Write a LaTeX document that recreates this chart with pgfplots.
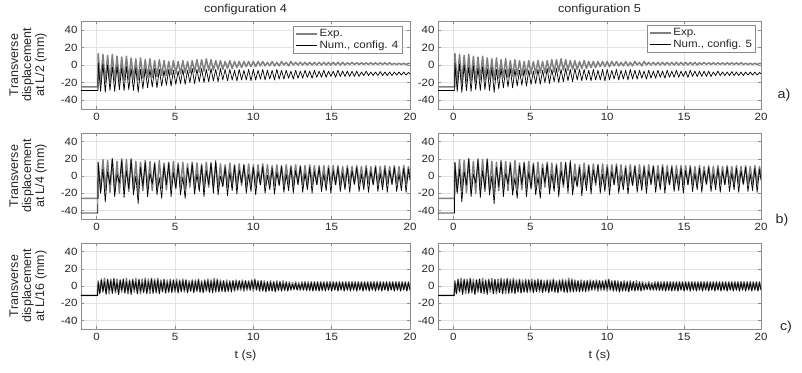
\documentclass[border=0pt]{standalone}
\usepackage{fontspec}
\setmainfont[FakeStretch=1.1]{Liberation Sans}
\newfontfamily\labfont{Liberation Sans}
\usepackage{pgfplots}
\pgfplotsset{compat=1.18}
\usepackage{pgfplotstable}

% Row a: L/2
\pgfplotstableread{
t e n
-1 -25 -29
0.08 -25 -29
0.10 13 2
0.25 -21 -30
0.40 12 1
0.55 -20 -31
0.70 11 0
0.85 -19 -29
1.00 12 -2
1.15 -18 -30
1.30 10 -1
1.45 -19 -28
1.60 9 -3
1.75 -17 -29
1.90 10 -2
2.05 -17 -28
2.20 8 -4
2.35 -16 -29
2.50 7 -3
2.65 -17 -31
2.80 8 -5
2.95 -15 -27
3.10 6 -4
3.25 -14 -26
3.40 7 -5
3.55 -14 -25
3.70 5 -4
3.85 -13 -26
4.00 6 -5
4.15 -12 -24
4.30 5 -6
4.45 -12 -23
4.60 4 -5
4.75 -11 -24
4.90 5 -6
5.05 -10 -22
5.20 4 -7
5.35 -10 -21
5.50 5 -5
5.65 -9 -22
5.80 4 -6
5.95 -9 -20
6.10 5 -4
6.25 -8 -21
6.40 6 -5
6.55 -8 -19
6.70 6 -4
6.85 -7 -20
7.00 7 -5
7.15 -6 -19
7.30 6 -4
7.45 -6 -18
7.60 5 -5
7.75 -5 -19
7.90 5 -4
8.05 -5 -17
8.20 4 -5
8.35 -4 -18
8.50 5 -5
8.65 -4 -17
8.80 4 -6
8.95 -3 -18
9.10 4 -5
9.25 -3 -17
9.40 4 -6
9.55 -2 -17
9.70 4 -5
9.85 -2 -18
10.00 4 -5
10.15 -2 -17
10.30 4 -6
10.45 -1 -16
10.60 4 -5
10.75 -1 -17
10.90 3 -6
11.05 -1 -16
11.20 4 -6
11.35 -1 -17
11.50 3 -5
11.65 -1 -16
11.80 4 -6
11.95 0 -16
12.10 3 -6
12.25 -1 -15
12.40 4 -7
12.55 0 -16
12.70 3 -6
12.85 0 -15
13.00 3 -7
13.15 0 -15
13.30 3 -6
13.45 0 -14
13.60 3 -7
13.75 0 -15
13.90 3 -6
14.05 0 -14
14.20 3 -7
14.35 0 -14
14.50 3 -6
14.65 0 -14
14.80 3 -7
14.95 0 -13
15.10 3 -7
15.25 0 -14
15.40 3 -6
15.55 0 -13
15.70 3 -7
15.85 0 -13
16.00 2.5 -7
16.15 0.5 -13
16.30 3 -7
16.45 0.5 -13
16.60 2.5 -7
16.75 0.5 -13
16.90 2.5 -8
17.05 0.5 -12
17.20 2.5 -7
17.35 0.5 -12
17.50 2.5 -8
17.65 0.5 -12
17.80 2.5 -8
17.95 0.5 -12
18.10 2.5 -7.5
18.25 0.5 -12
18.40 2.5 -8
18.55 0.5 -12
18.70 2.5 -8
18.85 0.5 -12
19.00 2 -8
19.15 0.5 -11.5
19.30 2 -8
19.45 0.5 -11.5
19.60 2 -8
19.75 0.5 -11.5
19.90 2 -8.5
20.00 1.5 -10
}\tabA

% Row b: L/4
\pgfplotstableread{
t e n
-1 -26 -43
0.07 -26 -43
0.10 16 15
0.25 -18 -20
0.40 19 8
0.55 -17 -30
0.70 18 5
0.85 -19 -10
1.00 20 20
1.15 -18 -24
1.30 17 2
1.45 -20 -8
1.60 20 18
1.75 -17 -25
1.90 19 6
2.05 -18 -15
2.20 20 19
2.35 -16 -22
2.50 17 0
2.65 -19 -32
2.80 16 10
2.95 -17 -12
3.10 18 16
3.25 -15 -24
3.40 17 3
3.55 -17 -9
3.70 16 14
3.85 -16 -22
4.00 18 -2
4.15 -14 -26
4.30 15 12
4.45 -16 -10
4.60 16 15
4.75 -14 -24
4.90 17 4
5.05 -15 -14
5.20 15 13
5.35 -13 -22
5.50 16 -1
5.65 -15 -26
5.80 14 9
5.95 -13 -8
6.10 16 14
6.25 -14 -21
6.40 15 2
6.55 -12 -18
6.70 14 12
6.85 -14 -24
7.00 16 6
7.15 -13 -10
7.30 14 16
7.45 -12 -20
7.60 15 18
7.75 -13 -22
7.90 14 0
8.05 -12 -12
8.20 13 10
8.35 -13 -23
8.50 15 4
8.65 -11 -17
8.80 13 12
8.95 -12 -21
9.10 14 7
9.25 -11 -8
9.40 13 13
9.55 -12 -20
9.70 14 2
9.85 -11 -18
10.00 13 10
10.15 -12 -22
10.30 13 5
10.45 -10 -10
10.60 14 11
10.75 -11 -20
10.90 13 1
11.05 -10 -16
11.20 12 9
11.35 -11 -21
11.50 13 4
11.65 -10 -11
11.80 12 11
11.95 -11 -19
12.10 13 2
12.25 -10 -17
12.40 12 10
12.55 -11 -20
12.70 13 6
12.85 -10 -9
13.00 12 11
13.15 -10 -19
13.30 12 3
13.45 -11 -16
13.60 13 10
13.75 -10 -20
13.90 12 5
14.05 -10 -10
14.20 12 10
14.35 -11 -18
14.50 12 2
14.65 -10 -17
14.80 12 9
14.95 -10 -20
15.10 12 6
15.25 -10 -10
15.40 12 10
15.55 -10 -18
15.70 11 3
15.85 -10 -16
16.00 12 9
16.15 -9 -19
16.30 11 6
16.45 -10 -9
16.60 12 10
16.75 -9 -18
16.90 11 2
17.05 -10 -16
17.20 12 9
17.35 -9 -19
17.50 11 5
17.65 -10 -10
17.80 12 10
17.95 -9 -18
18.10 11 3
18.25 -10 -16
18.40 12 9
18.55 -9 -19
18.70 11 6
18.85 -10 -9
19.00 12 10
19.15 -9 -18
19.30 11 2
19.45 -10 -17
19.60 12 9
19.75 -9 -19
19.90 11 8
20.00 0 -5
}\tabB

% Row c: L/16
\pgfplotstableread{
t e n
-1 -11 -11
0.05 -11 -11
0.1 6 4
0.2 -8 -9
0.3 8 7
0.4 -7 -6
0.5 9 5
0.6 -8 -10
0.7 7 8
0.8 -9 -5
0.9 8 6
1.0 -7 -9
1.1 9 8
1.2 -8 -6
1.3 8 4
1.4 -9 -10
1.5 7 7
1.6 -7 -5
1.7 8 8
1.8 -8 -8
1.9 9 5
2.0 -9 -7
2.1 7 6
2.2 -8 -10
2.3 8 7
2.4 -7 -4
2.5 9 5
2.6 -8 -9
2.7 7 8
2.8 -9 -6
2.9 8 4
3.0 -7 -8
3.1 9 7
3.2 -8 -9
3.3 8 5
3.4 -9 -5
3.5 9 8
3.6 -7 -9
3.7 8 6
3.8 -8 -7
3.9 9 7
4.0 -8 -9
4.1 7 5
4.2 -7 -6
4.3 8 7
4.4 -8 -8
4.5 7 4
4.6 -7 -7
4.7 8 6
4.8 -6 -8
4.9 7 7
5.0 -7 -5
5.1 8 5
5.2 -7 -8
5.3 7 6
5.4 -6 -7
5.5 8 6
5.6 -7 -5
5.7 7 7
5.8 -7 -8
5.9 6 4
6.0 -6 -6
6.1 7 6
6.2 -7 -8
6.3 7 5
6.4 -6 -6
6.5 8 7
6.6 -7 -7
6.7 6 4
6.8 -7 -8
6.9 7 6
7.0 -6 -5
7.1 8 6
7.2 -7 -7
7.3 7 5
7.4 -6 -8
7.5 9 6
7.6 -7 -6
7.7 8 7
7.8 -6 -7
7.9 7 5
8.0 -6 -6
8.1 6 6
8.2 -6 -7
8.3 7 4
8.4 -6 -6
8.5 6 5
8.6 -5 -7
8.7 6 6
8.8 -6 -5
8.9 7 5
9.0 -5 -4
9.1 6 6
9.2 -5 -3
9.3 7 5
9.4 -6 -4
9.5 6 6
9.6 -5 -3
9.7 6 5
9.8 -5 -4
9.9 7 6
10.0 -6 -3
10.1 8 7
10.2 -5 -4
10.3 6 5
10.4 -6 -5
10.5 6 6
10.6 -5 -6
10.7 6 4
10.8 -6 -7
10.9 5 5
11.0 -5 -6
11.1 6 4
11.2 -5 -6
11.3 5 5
11.4 -6 -7
11.5 6 4
11.6 -5 -5
11.7 5 5
11.8 -5 -6
11.9 6 3
12.0 -5 -5
12.1 5 4
12.2 -5 -6
12.3 5 3
12.4 -5 -4
12.5 4 2
12.6 -4 -4
12.7 5 3
12.8 -4 -5
12.9 4 2
13.0 -5 -4
13.1 5 3
13.2 -4 -5
13.3 5 4
13.4 -5 -5
13.5 5 3
13.6 -5 -5
13.7 5 4
13.8 -5 -6
13.9 5 4
14.0 -5 -5
14.1 5 4
14.2 -5 -6
14.3 5 4
14.4 -5 -5
14.5 5 4
14.6 -5 -6
14.7 5 4
14.8 -4 -5
14.9 5 4
15.0 -5 -6
15.1 5 4
15.2 -4 -5
15.3 5 4
15.4 -5 -6
15.5 5 4
15.6 -4 -5
15.7 5 4
15.8 -5 -6
15.9 5 4
16.0 -4 -5
16.1 5 4
16.2 -5 -6
16.3 5 4
16.4 -4 -5
16.5 5 4
16.6 -5 -6
16.7 5 4
16.8 -4 -5
16.9 5 4
17.0 -5 -6
17.1 5 4
17.2 -4 -5
17.3 5 4
17.4 -5 -6
17.5 5 4
17.6 -4 -5
17.7 5 4
17.8 -5 -6
17.9 5 4
18.0 -4 -5
18.1 5 4
18.2 -5 -6
18.3 5 4
18.4 -4 -5
18.5 5 4
18.6 -5 -6
18.7 5 4
18.8 -4 -5
18.9 5 4
19.0 -5 -6
19.1 5 4
19.2 -4 -5
19.3 5 4
19.4 -5 -6
19.5 5 4
19.6 -4 -5
19.7 5 4
19.8 -5 -6
19.9 5 4
20.0 -4 -5
}\tabC

\pgfplotsset{
  base/.style={
    scale only axis, anchor=south west,
    xmin=-1, xmax=20, ymin=-50, ymax=50,
    xtick={0,5,10,15,20}, ytick={-40,-20,0,20,40},
    grid=major, major grid style={black!11, line width=0.4pt},
    axis line style={black!45, line width=0.5pt},
    tick style={black!45, line width=0.5pt},
    tick align=inside, major tick length=3pt,
    ticklabel style={font=\fontsize{10.5}{12}\selectfont, text=black!85},
    /pgf/number format/assume math mode=true,
    xticklabel style={yshift=-1pt},
    title style={font=\fontsize{11.5}{13}\selectfont, text=black!85, yshift=-3pt},
    xlabel style={font=\fontsize{11.5}{13}\selectfont, text=black!85, yshift=-2pt},
    legend style={draw=black!45, line width=0.5pt, font=\fontsize{10.5}{12}\selectfont, text=black!85,
      inner sep=1.5pt, row sep=-1.5pt, anchor=north east, cells={anchor=west}},
    legend image code/.code={\draw[##1] (0pt,0pt) -- (21pt,0pt);},
    every axis plot/.append style={line join=round},
  },
  ylab/.style={ylabel style={at={(axis description cs:-0.161,0.5)}, anchor=center,
    align=center, font=\labfont\fontsize{12.5}{13}\selectfont, text=black!85}},
  expst/.style={color=black!50, line width=1.5pt},
  numst/.style={color=black, line width=0.7pt},
}

\begin{document}
\begin{tikzpicture}
\useasboundingbox (0,0) rectangle (802pt,372pt);

% ---- Row a ----
\begin{axis}[base, ylab, at={(81pt,263pt)}, width=329pt, height=88pt,
  title={configuration 4},
  ylabel={Transverse\\displacement\\at L/2 (mm)},
  legend style={at={(0.976,0.943)}}]
\addplot[expst] table[x=t,y=e] {\tabA};
\addplot[numst] table[x=t,y=n] {\tabA};
\legend{Exp., {Num., config. 4}}
\end{axis}
\begin{axis}[base, at={(438pt,263pt)}, width=323pt, height=88pt,
  title={configuration 5},
  legend style={at={(0.984,0.955)}}]
\addplot[expst] table[x=t,y=e] {\tabA};
\addplot[numst] table[x=t,y=n] {\tabA};
\legend{Exp., {Num., config. 5}}
\end{axis}

% ---- Row b ----
\begin{axis}[base, ylab, at={(81pt,153pt)}, width=329pt, height=86pt,
  ylabel={Transverse\\displacement\\at L/4 (mm)}]
\addplot[expst] table[x=t,y=e] {\tabB};
\addplot[numst] table[x=t,y=n] {\tabB};
\end{axis}
\begin{axis}[base, at={(438pt,153pt)}, width=323pt, height=86pt]
\addplot[expst] table[x=t,y=e] {\tabB};
\addplot[numst] table[x=t,y=n] {\tabB};
\end{axis}

% ---- Row c ----
\begin{axis}[base, ylab, at={(81pt,43pt)}, width=329pt, height=86pt,
  ylabel={Transverse\\displacement\\at L/16 (mm)}, xlabel={t (s)}]
\addplot[expst] table[x=t,y=e] {\tabC};
\addplot[numst] table[x=t,y=n] {\tabC};
\end{axis}
\begin{axis}[base, at={(438pt,43pt)}, width=323pt, height=86pt, xlabel={t (s)}]
\addplot[expst] table[x=t,y=e] {\tabC};
\addplot[numst] table[x=t,y=n] {\tabC};
\end{axis}

\node[font=\fontsize{13}{15}\selectfont, text=black!85] at (784pt,277pt) {a)};
\node[font=\fontsize{13}{15}\selectfont, text=black!85] at (782pt,152pt) {b)};
\node[font=\fontsize{13}{15}\selectfont, text=black!85] at (786pt,45pt) {c)};
\end{tikzpicture}
\end{document}
